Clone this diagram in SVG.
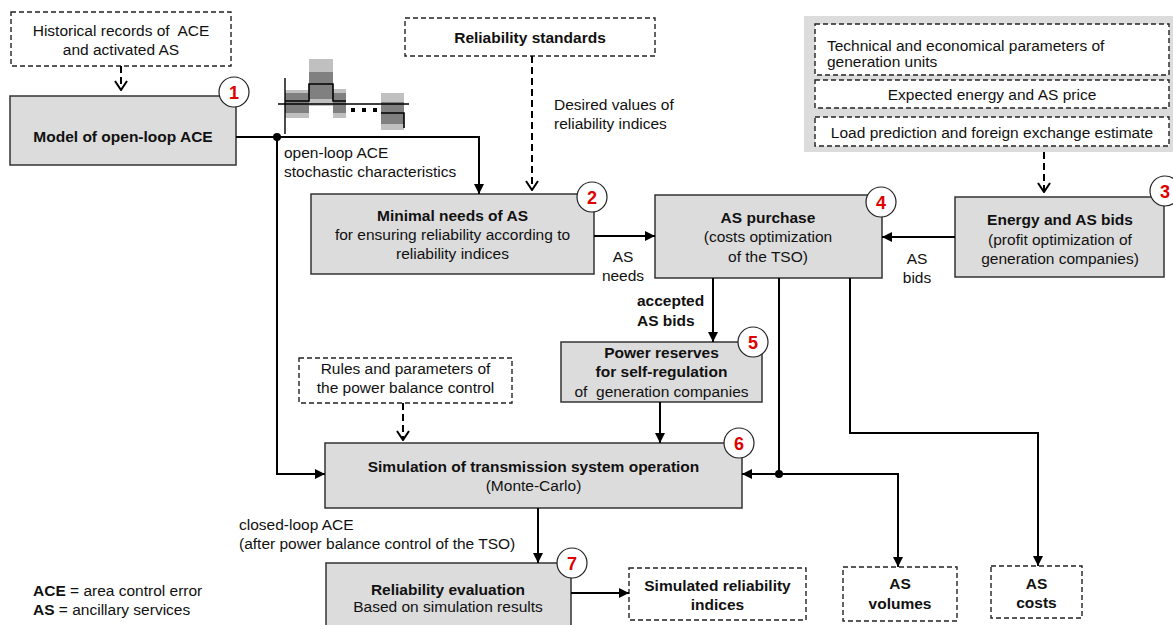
<svg xmlns="http://www.w3.org/2000/svg" width="1173" height="625" viewBox="0 0 1173 625">
<style>
text{font-family:"Liberation Sans",Arial,sans-serif;font-size:15.5px;fill:#111}
.b{font-weight:bold}
.m{text-anchor:middle}
.box{fill:#dcdcdc;stroke:#333;stroke-width:1.5}
.dbox{fill:#fff;stroke:#222;stroke-width:1.4;stroke-dasharray:5 3}
.num{font-size:18px;font-weight:bold;fill:#e00000;text-anchor:middle}
.circ{fill:#fff;stroke:#222;stroke-width:1.2}
.ln{fill:none;stroke:#000;stroke-width:2}
.dl{fill:none;stroke:#000;stroke-width:2;stroke-dasharray:7 4}
</style>
<defs>
<marker id="ah" markerUnits="userSpaceOnUse" viewBox="0 0 10 10" refX="10" refY="5" markerWidth="10" markerHeight="10" orient="auto"><path d="M0,0 L10,5 L0,10 z" fill="#000"/></marker>
<marker id="av" markerUnits="userSpaceOnUse" viewBox="0 0 11 14" refX="10" refY="7" markerWidth="11" markerHeight="14" orient="auto"><path d="M1,1 L10,7 L1,13" fill="none" stroke="#000" stroke-width="2"/></marker>
</defs>

<g id="panel">
<rect x="804" y="16" width="375" height="136" fill="#dcdcdc"/>
</g>
<g id="tech-params"><rect class="dbox" x="815" y="24" width="354" height="51"/>
<text x="827" y="51">Technical and economical parameters of</text>
<text x="827" y="67">generation units</text></g>
<g id="expected-price"><rect class="dbox" x="815" y="80" width="354" height="28"/>
<text class="m" x="992" y="100">Expected energy and AS price</text></g>
<g id="load-prediction"><rect class="dbox" x="815" y="117" width="354" height="29"/>
<text class="m" x="992" y="138">Load prediction and foreign exchange estimate</text></g>

<g id="historical"><rect class="dbox" x="11" y="12" width="220" height="54"/>
<text class="m" x="121" y="36" style="white-space:pre">Historical records of  ACE</text>
<text class="m" x="121" y="55">and activated AS</text></g>

<g id="n1"><rect class="box" x="10" y="96" width="226" height="69"/>
<text class="m b" x="123" y="142">Model of open-loop ACE</text>
<circle class="circ" cx="234" cy="92" r="15"/><text class="num" x="234" y="98.5">1</text></g>

<g id="chart">
<rect x="285" y="90" width="24" height="28" fill="#c0c0c0"/><rect x="285" y="93" width="24" height="20" fill="#808080"/>
<rect x="309" y="59" width="24" height="47" fill="#c0c0c0"/><rect x="309" y="72" width="24" height="27" fill="#808080"/>
<rect x="333" y="89" width="13" height="29" fill="#c0c0c0"/><rect x="333" y="93" width="13" height="20" fill="#808080"/>
<rect x="381" y="93" width="23" height="37" fill="#c0c0c0"/><rect x="381" y="102" width="23" height="22" fill="#808080"/>
<line x1="285" y1="78" x2="285" y2="134" stroke="#000" stroke-width="1.4"/>
<line x1="278" y1="104" x2="409" y2="104" stroke="#000" stroke-width="1.4"/>
<path d="M285,101 H309 V84 H333 V101 H346 M381,113 H404 V128" fill="none" stroke="#000" stroke-width="1.6"/>
<rect x="351" y="108" width="4" height="4" fill="#000"/><rect x="362" y="108" width="4" height="4" fill="#000"/><rect x="373" y="108" width="4" height="4" fill="#000"/>
</g>

<g id="rel-standards"><rect class="dbox" x="405" y="18" width="250" height="38"/>
<text class="m b" x="530" y="43">Reliability standards</text></g>

<g id="n2"><rect class="box" x="311" y="194" width="283" height="80"/>
<text class="m b" x="452.5" y="221">Minimal needs of AS</text>
<text class="m" x="452.5" y="240">for ensuring reliability according to</text>
<text class="m" x="452.5" y="259">reliability indices</text>
<circle class="circ" cx="592" cy="197" r="15"/><text class="num" x="592" y="203.5">2</text></g>

<g id="n4"><rect class="box" x="655" y="195" width="227" height="83"/>
<text class="m b" x="768" y="223">AS purchase</text>
<text class="m" x="768" y="242">(costs optimization</text>
<text class="m" x="768" y="262">of the TSO)</text>
<circle class="circ" cx="881" cy="202" r="15"/><text class="num" x="881" y="208.5">4</text></g>

<g id="n3"><rect class="box" x="955" y="197" width="209" height="80"/>
<text class="m b" x="1060" y="225">Energy and AS bids</text>
<text class="m" x="1060" y="245">(profit optimization of</text>
<text class="m" x="1060" y="264">generation companies)</text>
<circle class="circ" cx="1165" cy="191" r="15"/><text class="num" x="1165" y="197.5">3</text></g>

<g id="n5"><rect class="box" x="561" y="342" width="201" height="60"/>
<text class="m b" x="661.5" y="358">Power reserves</text>
<text class="m b" x="661.5" y="377">for self-regulation</text>
<text class="m" x="661.5" y="397" style="white-space:pre">of  generation companies</text>
<circle class="circ" cx="753" cy="342" r="15"/><text class="num" x="753" y="348.5">5</text></g>

<g id="rules"><rect class="dbox" x="299" y="358" width="213" height="45"/>
<text class="m" x="405.5" y="374">Rules and parameters of</text>
<text class="m" x="405.5" y="393">the power balance control</text></g>

<g id="n6"><rect class="box" x="325" y="443" width="417" height="65"/>
<text class="m b" x="533.5" y="472">Simulation of transmission system operation</text>
<text class="m" x="533.5" y="491">(Monte-Carlo)</text>
<circle class="circ" cx="739" cy="443" r="15"/><text class="num" x="739" y="449.5">6</text></g>

<g id="n7"><rect class="box" x="326" y="563" width="245" height="70"/>
<text class="m b" x="448" y="595">Reliability evaluation</text>
<text class="m" x="448" y="612">Based on simulation results</text>
<circle class="circ" cx="572" cy="563" r="15"/><text class="num" x="572" y="569.5">7</text></g>

<g id="simulated"><rect class="dbox" x="629" y="568" width="177" height="52"/>
<text class="m b" x="717.5" y="591">Simulated reliability</text>
<text class="m b" x="717.5" y="610">indices</text></g>

<g id="as-volumes"><rect class="dbox" x="843" y="567" width="114" height="54"/>
<text class="m b" x="900" y="589">AS</text>
<text class="m b" x="900" y="609">volumes</text></g>

<g id="as-costs"><rect class="dbox" x="991" y="566" width="91" height="52"/>
<text class="m b" x="1036.5" y="589">AS</text>
<text class="m b" x="1036.5" y="608">costs</text></g>

<g id="connectors">
<line class="dl" x1="121" y1="66" x2="121" y2="90" marker-end="url(#av)"/>
<path class="ln" d="M236,137 H479 V194" marker-end="url(#ah)"/>
<path class="ln" d="M277,137 V474 H325" marker-end="url(#ah)"/>
<circle cx="277" cy="137" r="4" fill="#000"/>
<line class="dl" x1="532" y1="56" x2="532" y2="190" marker-end="url(#av)"/>
<line class="ln" x1="594" y1="236" x2="655" y2="236" marker-end="url(#ah)"/>
<line class="ln" x1="955" y1="237" x2="882" y2="237" marker-end="url(#ah)"/>
<line class="dl" x1="1044" y1="152" x2="1044" y2="192" marker-end="url(#av)"/>
<line class="ln" x1="713" y1="278" x2="713" y2="342" marker-end="url(#ah)"/>
<line class="dl" x1="403" y1="403" x2="403" y2="440" marker-end="url(#av)"/>
<line class="ln" x1="660" y1="402" x2="660" y2="443" marker-end="url(#ah)"/>
<path class="ln" d="M779,278 V474 H742" marker-end="url(#ah)"/>
<circle cx="779" cy="474" r="4" fill="#000"/>
<path class="ln" d="M779,474 H898 V567" marker-end="url(#ah)"/>
<path class="ln" d="M850,278 V433 H1038 V566" marker-end="url(#ah)"/>
<line class="ln" x1="538" y1="508" x2="538" y2="563" marker-end="url(#ah)"/>
<line class="ln" x1="571" y1="593" x2="629" y2="593" marker-end="url(#ah)"/>
</g>

<g id="labels">
<text x="284" y="158">open-loop ACE</text>
<text x="284" y="177">stochastic characteristics</text>
<text x="554" y="110">Desired values of</text>
<text x="554" y="129">reliability indices</text>
<text class="m" x="623" y="262">AS</text>
<text class="m" x="623" y="281">needs</text>
<text class="m" x="917" y="264">AS</text>
<text class="m" x="917" y="283">bids</text>
<text class="b" x="637" y="306">accepted</text>
<text class="b" x="637" y="326">AS bids</text>
<text x="239" y="530">closed-loop ACE</text>
<text x="239" y="549">(after power balance control of the TSO)</text>
</g>

<g id="legend">
<text x="33" y="596"><tspan class="b">ACE</tspan> = area control error</text>
<text x="33" y="615"><tspan class="b">AS</tspan> = ancillary services</text>
</g>
</svg>
